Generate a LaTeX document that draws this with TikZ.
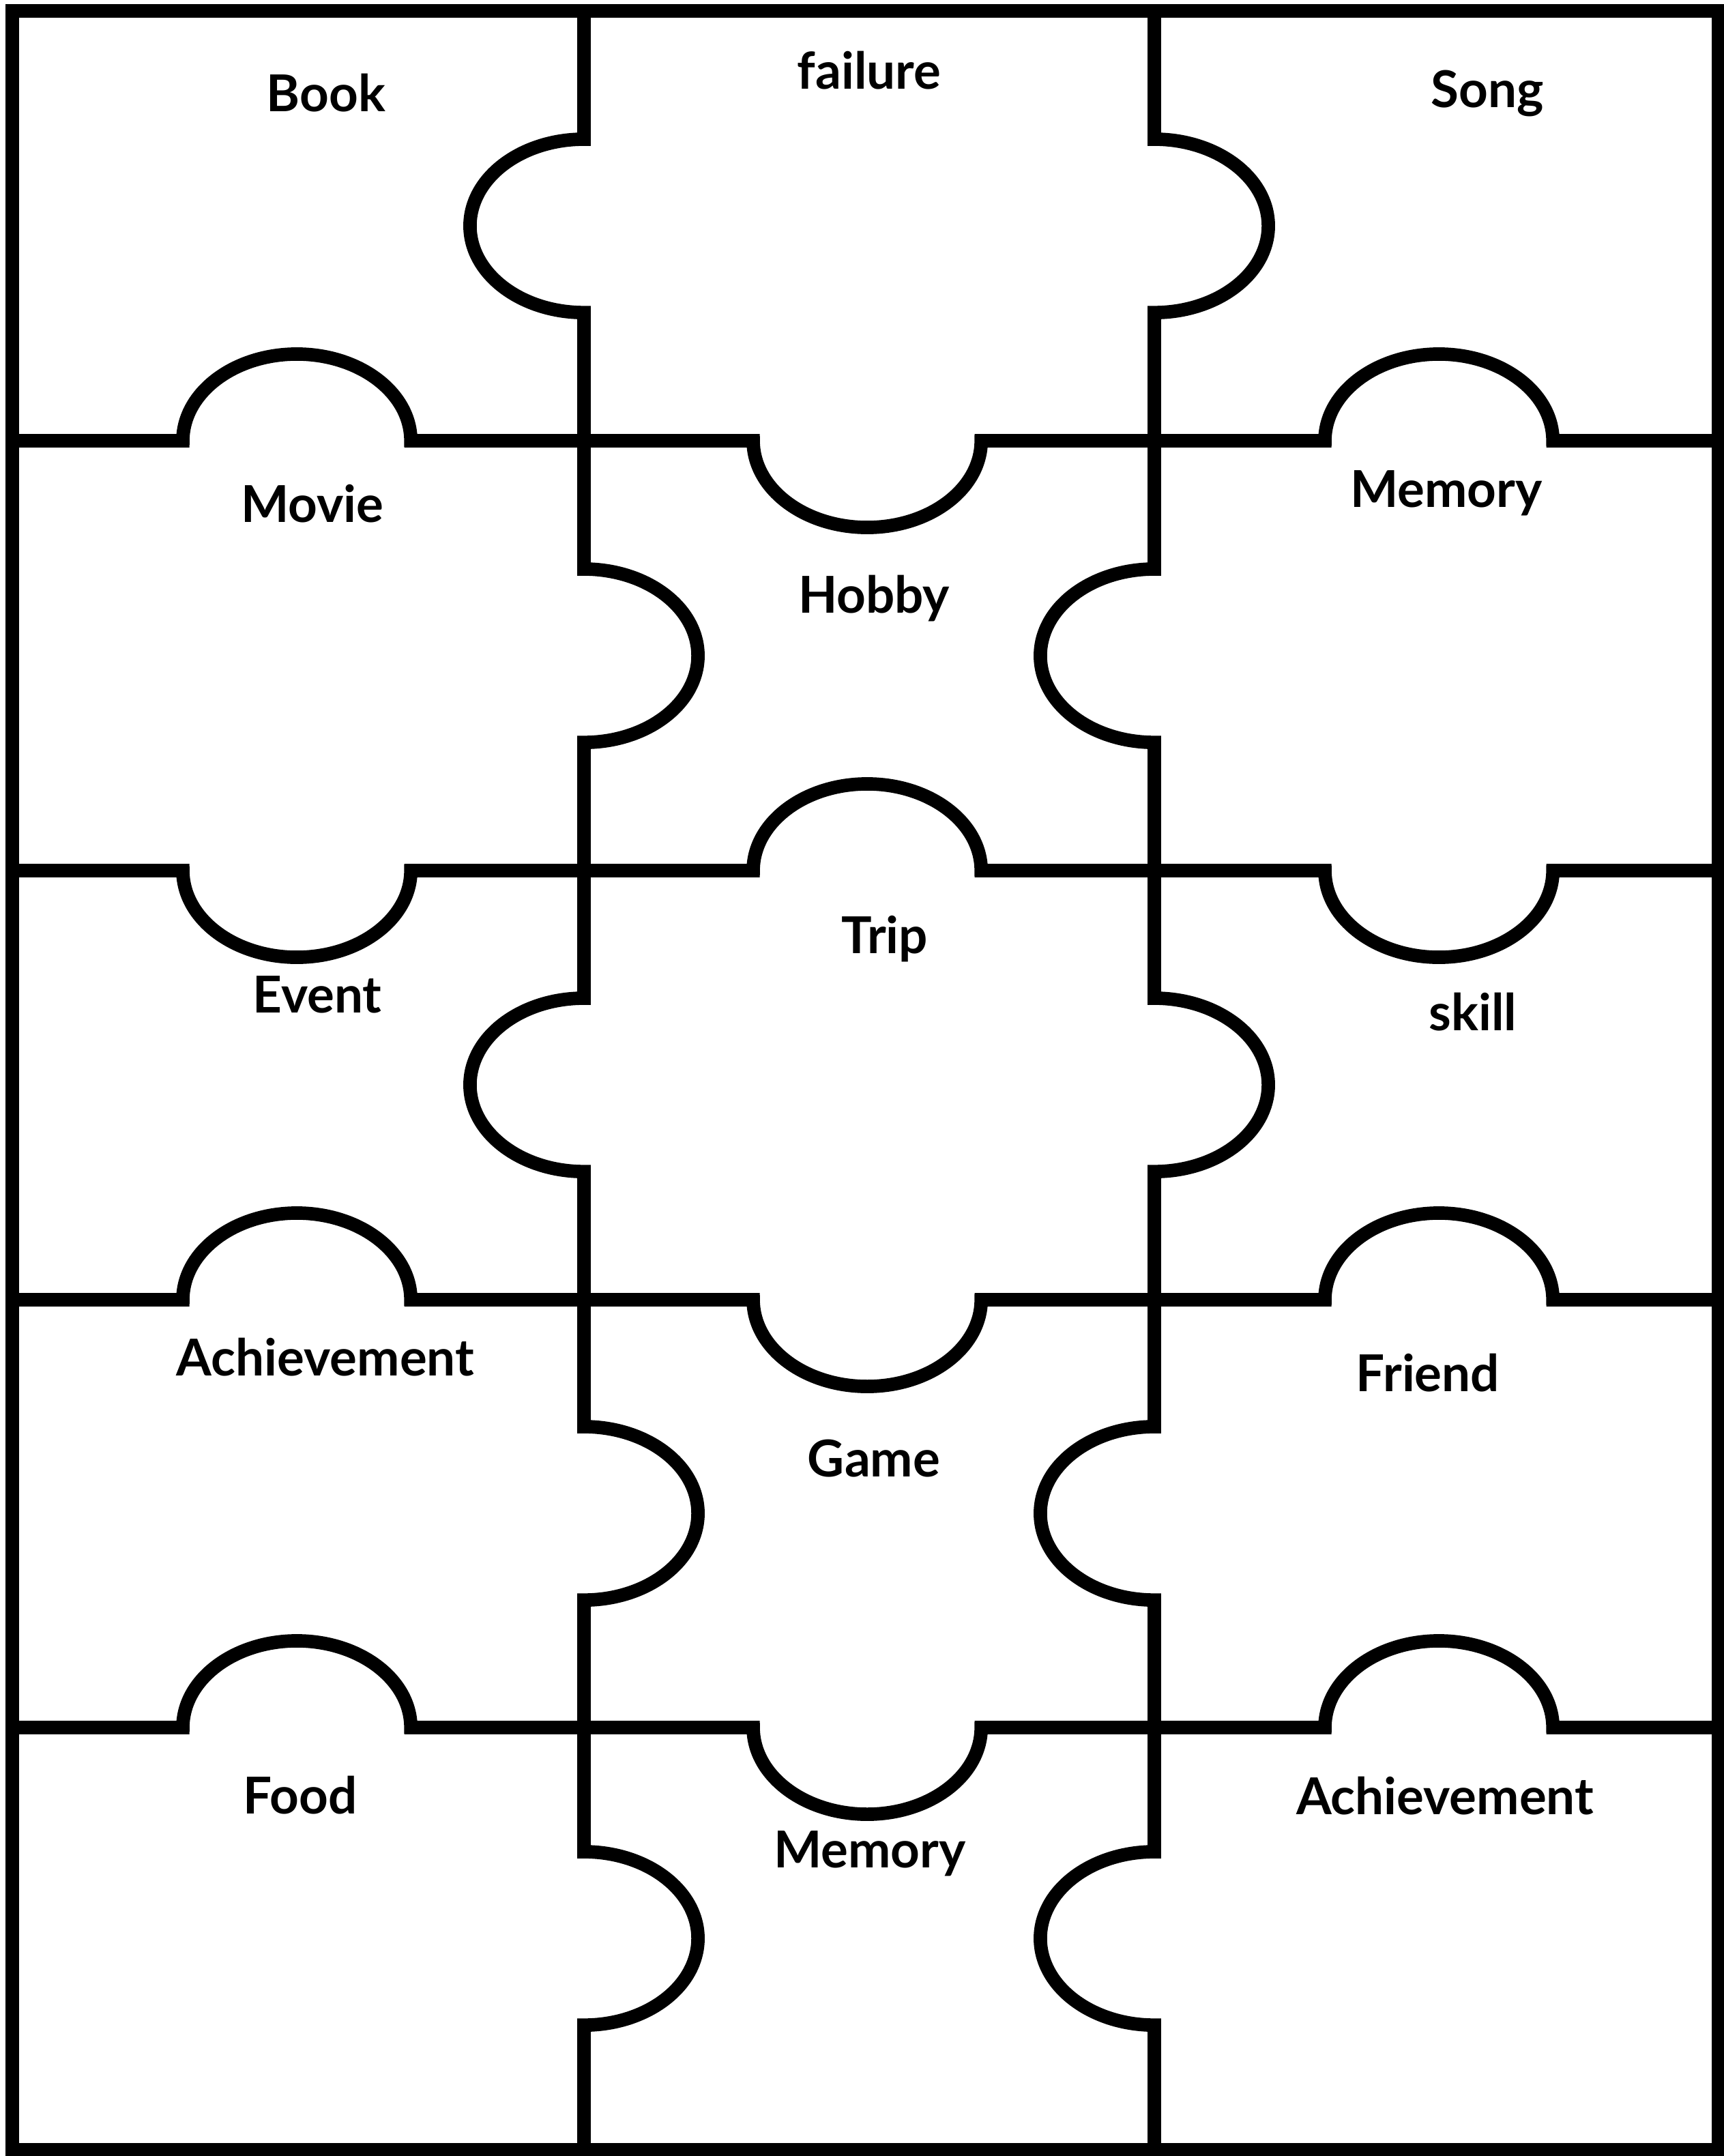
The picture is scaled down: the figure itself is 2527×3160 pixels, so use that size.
\documentclass[tikz,border=0pt]{standalone}
\usepackage{fontspec}
\setmainfont{Lato}
\def\ka{1.67cm}
\def\kb{1.27cm}
% horizontal cut line at depth #1 with three knobs (end angles #2,#3,#4: 0 = up, 360 = down)
\newcommand\pzH[4]{%
  \draw[cut] (18,-#1) -- (268,-#1)
    arc[start angle=180,end angle=#2,x radius=\ka,y radius=\kb] -- (1104,-#1)
    arc[start angle=180,end angle=#3,x radius=\ka,y radius=\kb] -- (1942,-#1)
    arc[start angle=180,end angle=#4,x radius=\ka,y radius=\kb] -- (2519,-#1);}
% vertical cut line at #1 with five knobs (end angles: 270 = left, -90 = right)
\newcommand\pzV[6]{%
  \draw[cut] (#1,-16) -- (#1,-204)
    arc[start angle=90,end angle=#2,x radius=\ka,y radius=\kb] -- (#1,-834)
    arc[start angle=90,end angle=#3,x radius=\ka,y radius=\kb] -- (#1,-1463)
    arc[start angle=90,end angle=#4,x radius=\ka,y radius=\kb] -- (#1,-2091)
    arc[start angle=90,end angle=#5,x radius=\ka,y radius=\kb] -- (#1,-2714)
    arc[start angle=90,end angle=#6,x radius=\ka,y radius=\kb] -- (#1,-3151);}
\begin{document}
\begin{tikzpicture}[x=0.01cm,y=0.01cm,
  cut/.style={line width=5.6pt, line join=miter, black},
  lbl/.style={anchor=base, inner sep=0pt, font=\fontsize{21.2}{26}\selectfont\bfseries}]
\useasboundingbox (0,0) rectangle (2527,-3160);
\fill[white] (0,0) rectangle (2527,-3160);
% outer frame
\draw[cut] (18,-16) rectangle (2519,-3151);
% horizontal cuts
\pzH{646}{0}{360}{0}
\pzH{1276}{360}{0}{360}
\pzH{1905}{0}{360}{0}
\pzH{2532}{0}{360}{0}
% vertical cuts
\pzV{856}{270}{-90}{270}{-90}{-90}
\pzV{1692}{-90}{270}{-90}{270}{270}
% labels
\node[lbl] (book)    at (478,-163)  {Book};
\node[lbl] (failure) at (1274,-130) {failure};
\node[lbl] (song)    at (2180,-157) {Song};
\node[lbl] (movie)   at (458,-765)  {Movie};
\node[lbl] (hobby)   at (1281,-898) {Hobby};
\node[lbl] (memoryA) at (2120,-743) {Memory};
\node[lbl] (event)   at (465,-1484) {Event};
\node[lbl] (trip)    at (1297,-1397) {Trip};
\node[lbl] (skill)   at (2159,-1510) {skill};
\node[lbl] (achA)    at (477,-2016) {Achievement};
\node[lbl] (game)    at (1281,-2164) {Game};
\node[lbl] (friend)  at (2093,-2039) {Friend};
\node[lbl] (food)    at (440,-2658) {Food};
\node[lbl] (memoryB) at (1275,-2737) {Memory};
\node[lbl] (achB)    at (2118,-2659) {Achievement};
\end{tikzpicture}
\end{document}
